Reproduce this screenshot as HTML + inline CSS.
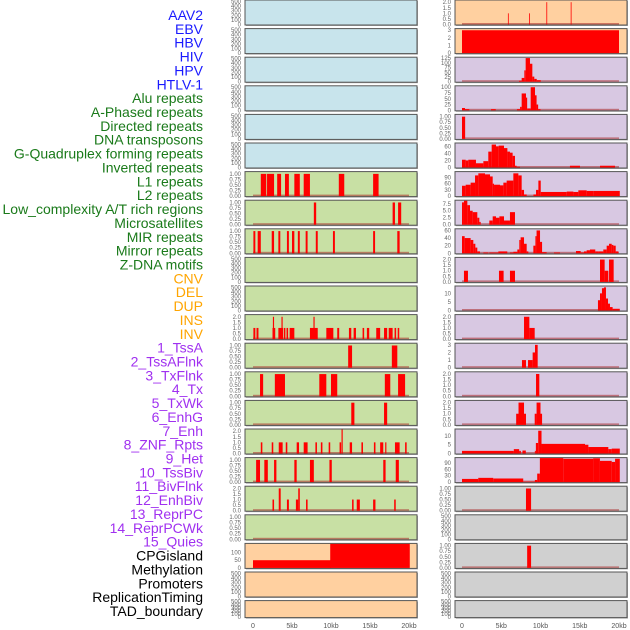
<!DOCTYPE html>
<html><head><meta charset="utf-8"><style>
html,body{margin:0;padding:0;background:#fff;width:630px;height:630px;overflow:hidden}
svg{display:block;font-family:"Liberation Sans",sans-serif}
</style></head><body>
<svg id="c" width="630" height="630" viewBox="0 0 630 630"></svg>
<script>
const labelNames=["AAV2","EBV","HBV","HIV","HPV","HTLV-1","Alu repeats","A-Phased repeats","Directed repeats","DNA transposons","G-Quadruplex forming repeats","Inverted repeats","L1 repeats","L2 repeats","Low_complexity A/T rich regions","Microsatellites","MIR repeats","Mirror repeats","Z-DNA motifs","CNV","DEL","DUP","INS","INV","1_TssA","2_TssAFlnk","3_TxFlnk","4_Tx","5_TxWk","6_EnhG","7_Enh","8_ZNF_Rpts","9_Het","10_TssBiv","11_BivFlnk","12_EnhBiv","13_ReprPC","14_ReprPCWk","15_Quies","CPGisland","Methylation","Promoters","ReplicationTiming","TAD_boundary"];
const labelColors=["#1a1aff","#1a1aff","#1a1aff","#1a1aff","#1a1aff","#1a1aff","#1a7a1a","#1a7a1a","#1a7a1a","#1a7a1a","#1a7a1a","#1a7a1a","#1a7a1a","#1a7a1a","#1a7a1a","#1a7a1a","#1a7a1a","#1a7a1a","#1a7a1a","#ffa500","#ffa500","#ffa500","#ffa500","#ffa500","#a030f0","#a030f0","#a030f0","#a030f0","#a030f0","#a030f0","#a030f0","#a030f0","#a030f0","#a030f0","#a030f0","#a030f0","#a030f0","#a030f0","#a030f0","#000","#000","#000","#000","#000"];
const panelBg=["#c8e4ec","#c8e4ec","#c8e4ec","#c8e4ec","#c8e4ec","#c8e4ec","#c8e0a4","#c8e0a4","#c8e0a4","#c8e0a4","#c8e0a4","#c8e0a4","#c8e0a4","#c8e0a4","#c8e0a4","#c8e0a4","#c8e0a4","#c8e0a4","#c8e0a4","#ffd0a0","#ffd0a0","#ffd0a0","#ffd0a0","#ffd0a0","#d8c8e2","#d8c8e2","#d8c8e2","#d8c8e2","#d8c8e2","#d8c8e2","#d8c8e2","#d8c8e2","#d8c8e2","#d8c8e2","#d8c8e2","#d8c8e2","#d8c8e2","#d8c8e2","#d8c8e2","#d0d0d0","#d0d0d0","#d0d0d0","#d0d0d0","#d0d0d0"];
const T500=["0","100","200","300","400","500"], T1=["0.00","0.25","0.50","0.75","1.00"], T2=["0.0","0.5","1.0","1.5","2.0"];
const panelTicks=[T500,T500,T500,T500,T500,T500,T1,T1,T1,T500,T500,T2,T1,T1,T1,T2,T1,T2,T1,["0","50","100"],T500,T500,
 T2,["0","1","2","3"],["0","25","50","75","100","125"],["0","25","50","75","100"],T1,["0","20","40","60"],["0","30","60","90"],["0.0","2.5","5.0","7.5"],["0","20","40","60"],T2,["0","5","10"],T2,["0","1","2","3"],T2,T2,["0","5","10"],["0","30","60","90"],T1,T500,T1,T500,T500];
const panelMax=[520,520,520,520,520,520,1.08,1.08,1.08,520,520,2.15,1.08,1.08,1.08,2.15,1.08,2.15,1.08,156,520,520,
 2.15,3.15,127,104,1.08,68,116,8.6,63,2.15,14,2.15,3.15,2.15,2.15,13.7,113,1.08,520,1.08,520,520];
const barsAlu=[[1.0,1.7,1],[1.8,2.7,1],[3.1,3.6,1],[4.1,4.6,1],[5.3,6.0,1],[6.5,7.3,1],[11.0,11.7,1],[15.4,16.1,1]];
const barsAPhased=[[7.8,8.1,1],[17.9,18.2,1],[18.6,19.0,1]];
const barsDirected=[[0.05,0.3,1],[0.6,1.0,1],[2.4,2.7,1],[3.25,3.5,1],[4.35,4.6,1],[5.0,5.3,1],[5.75,6.0,1],[6.75,7.0,1],[8.05,8.3,1],[10.25,10.5,1],[15.4,15.65,1],[18.5,18.8,1]];
const barsInverted=[[0.05,0.3,1],[0.45,0.7,1],[2.5,2.85,1],[2.55,2.7,2],[3.25,3.85,1],[3.65,3.8,2],[3.95,4.15,1],[4.3,4.5,1],[4.7,5.3,1],[7.3,8.3,1],[7.75,7.9,2],[9.4,10.3,1],[10.8,11.05,1],[12.3,12.6,1],[12.9,13.2,1],[14.05,14.25,1],[14.6,14.9,1],[15.8,16.3,1],[16.8,17.2,1],[17.4,17.9,1],[18.15,18.35,1],[18.55,18.75,1]];
const barsL2=[[12.2,12.7,1],[17.8,18.5,1]];
const barsLowComplexity=[[0.9,1.3,1],[2.8,4.1,1],[8.5,9.4,1],[10.0,10.8,1],[16.9,17.6,1],[18.6,19.5,1]];
const barsMicrosat=[[12.6,13.0,1],[16.8,17.2,1]];
const barsMIR=[[1.0,1.2,1],[2.4,2.6,1],[3.3,3.8,1],[4.2,4.4,1],[5.6,5.9,1],[6.5,7.0,1],[8.0,8.2,1],[8.7,8.9,1],[9.7,9.9,1],[11.1,11.3,1],[11.35,11.5,2.2],[12.4,12.7,1],[13.9,14.1,1],[15.5,15.7,1],[16.3,16.7,1],[16.95,17.1,1],[18.2,18.8,1],[19.5,19.7,1]];
const barsMirror=[[0.4,0.9,1],[1.45,1.9,1],[2.7,3.0,1],[5.3,5.6,1],[7.3,7.8,1],[9.8,10.1,1],[16.7,17.0,1],[18.3,18.7,1]];
const barsZDNA=[[2.5,2.7,1],[3.3,3.55,2],[4.35,4.6,1],[5.5,5.8,1],[5.8,6.0,2],[6.8,7.0,1],[12.7,12.9,1],[13.3,13.7,1],[15.4,15.7,1],[18.1,18.3,1]];
const barsCNV=[[0,10,50],[9.9,20.1,160]];
const barsINS=[[5.85,5.95,1],[8.55,8.65,1],[10.75,10.85,2],[13.85,13.95,2]];
const barsINV=[[0,20,3]];
const barsTssA=[[7.26,7.6,5],[7.6,7.94,20],[7.94,8.11,60],[8.11,8.66,125],[8.66,8.96,95],[8.96,9.21,27],[9.21,9.52,15],[9.52,10.03,8]];
const barsTssAFlnk=[[0,0.38,10],[0.38,0.93,5],[3.7,4.3,5],[7.0,7.4,5],[7.4,7.6,15],[7.6,8.15,73],[8.15,8.3,55],[8.3,8.75,8],[8.75,9.3,100],[9.3,9.5,65],[9.5,9.7,25],[9.7,10.0,5]];
const barsTxFlnk=[[0,0.4,1]];
const barsTx=[[0,0.47,22],[0.47,0.8,20],[0.8,1.78,22],[1.78,2.72,12],[2.72,3.35,18],[3.35,3.78,45],[3.78,4.33,65],[4.33,4.67,60],[4.67,5.35,62],[5.35,5.78,55],[5.78,6.11,45],[6.11,6.45,42],[6.45,6.75,33],[6.75,6.96,5],[6.96,7.39,2],[13.75,15.03,5],[17.58,19.49,5]];
const barsTxWk=[[0,0.47,50],[0.47,1.1,55],[1.1,1.66,65],[1.66,2.08,100],[2.08,2.93,110],[2.93,3.57,105],[3.57,3.91,95],[3.91,4.08,60],[4.08,4.84,55],[4.84,5.27,52],[5.27,5.69,65],[5.69,6.54,75],[6.54,7.18,110],[7.18,7.6,100],[7.6,7.9,30],[7.9,8.24,8],[9.1,9.43,8],[9.43,9.73,30],[9.73,10.03,75],[10.03,13.34,20],[13.34,14.19,22],[14.19,14.82,20],[14.82,15.88,28],[15.88,16.73,25],[16.73,20.1,25]];
const barsEnhG=[[0,0.25,8],[0.25,0.68,9],[0.68,1.02,7],[1.02,1.36,5],[1.36,1.95,4.5],[1.95,2.21,2.5],[2.21,2.38,1],[3.48,3.91,1.5],[3.91,4.33,3],[4.33,4.76,2.5],[4.76,5.35,3],[5.35,6.11,1.5],[6.11,6.75,4.5]];
const barsEnh=[[0,0.34,45],[0.34,1.1,40],[1.1,1.44,35],[1.44,1.7,25],[1.7,1.95,15],[1.95,2.29,5],[2.72,3.35,2],[3.48,4.63,2],[4.63,5.77,5],[6.11,6.54,2],[6.54,7.05,4],[7.05,7.3,10],[7.3,7.47,35],[7.47,7.9,42],[7.9,8.24,25],[8.24,8.45,5],[9.09,9.35,20],[9.35,9.5,45],[9.5,9.94,60],[9.94,10.2,30],[10.2,10.78,3],[11.72,12.48,2],[14.52,15.12,6],[15.12,15.54,2],[15.54,15.88,5],[15.88,16.3,8],[16.3,16.98,10],[16.98,17.37,5],[17.37,18.0,5],[18.0,18.43,10],[18.43,18.73,20],[18.73,19.07,25],[19.07,19.28,22],[19.28,19.58,20],[19.58,19.92,5]];
const barsZNF=[[0.25,0.76,1],[4.71,5.3,1],[6.11,6.75,1],[17.58,18.17,2],[18.17,18.64,1],[18.73,19.32,2]];
const barsHet=[[17.32,17.58,6],[17.58,17.83,10],[17.83,18.09,13],[18.09,18.34,13.5],[18.34,18.6,7],[18.6,18.85,4],[18.85,19.19,2],[19.19,20.1,1]];
const barsTssBiv=[[7.9,8.58,2],[8.58,9.26,1]];
const barsBivFlnk=[[7.64,8.15,1],[8.41,9.0,1],[9.0,9.3,2],[9.3,9.64,3]];
const barsEnhBiv=[[9.43,9.85,2]];
const barsReprPC=[[6.9,7.2,1],[7.2,7.9,2],[7.9,8.15,1],[9.26,9.5,1],[9.5,10.0,2],[10.0,10.2,1]];
const barsReprPCWk=[[0,6.6,1.5],[6.6,7.28,2.5],[7.28,7.5,1.5],[7.7,8.13,1.7],[9.28,9.41,1.5],[9.41,9.71,6],[9.71,10.13,13],[10.13,15.67,5.5],[15.67,16.1,5],[16.1,18.64,3.7],[18.64,19.07,2.5],[19.07,20.1,2.8]];
const barsQuies=[[0,2.07,15],[2.07,3.98,20],[3.98,7.8,17],[7.8,9.28,2],[9.28,9.58,10],[9.58,9.92,40],[9.92,12.9,117],[12.9,16.7,110],[16.7,17.57,112],[17.57,19.07,100],[19.07,19.5,95],[19.5,20.1,110]];
const barsCPG=[[8.15,8.8,1]];
const barsPromoters=[[8.3,8.8,1]];
const panelBars=[[],[],[],[],[],[],barsAlu,barsAPhased,barsDirected,[],[],barsInverted,barsL2,barsLowComplexity,barsMicrosat,barsMIR,barsMirror,barsZDNA,[],barsCNV,[],[],
 barsINS,barsINV,barsTssA,barsTssAFlnk,barsTxFlnk,barsTx,barsTxWk,barsEnhG,barsEnh,barsZNF,barsHet,barsTssBiv,barsBivFlnk,barsEnhBiv,barsReprPC,barsReprPCWk,barsQuies,barsCPG,[],barsPromoters,[],[]];
const xTickKb=[0,5,10,15,20];
const xTickLabels=["0","5kb","10kb","15kb","20kb"];
const hasBaseline=[false,false,false,false,false,false,true,true,true,false,false,true,true,true,true,true,true,true,true,true,false,false,
 true,true,true,true,true,true,true,true,true,true,true,true,true,true,true,true,true,true,false,true,false,false];

const NS="http://www.w3.org/2000/svg";
const svg=document.getElementById('c');
function mk(t,a,p){const e=document.createElementNS(NS,t);for(const k in a)e.setAttribute(k,a[k]);(p||svg).appendChild(e);return e;}
function slug(s){return s.toLowerCase().replace(/[^a-z0-9]+/g,'-').replace(/^-|-$/g,'');}

// labels
labelNames.forEach((n,i)=>{
  const t=mk('text',{x:203,y:15+i*13.86+5,'text-anchor':'end','font-size':14,fill:labelColors[i]});
  t.textContent=n;
  
  
});

const cols=[{px:245,x0:253,k:7.8,tx:241},{px:455,x0:462,k:7.85,tx:451}];
for(let p=0;p<44;p++){
  const col=cols[p<22?0:1], row=p%22;
  const y=row*28.6, h=row===21?17:25;
  const xs=kb=>col.x0+kb*col.k;
  const g=mk('g',{});
  
  
  mk('rect',{x:col.px+1,y:y+1,width:172,height:h,fill:'#aaa'},g);
  const bg=mk('rect',{x:col.px,y:y,width:172,height:h,fill:panelBg[p],stroke:'#555','stroke-width':1},g);
  
  
  const y0=y+h-0.5, top=y+0.5, dmax=panelMax[p];
  const ys=v=>y0-(v/dmax)*(h-1);
  if(hasBaseline[p]) mk('rect',{x:xs(0),y:y0-1.5,width:xs(20)-xs(0),height:1.5,fill:'rgba(170,40,40,0.55)'},g);
  panelBars[p].forEach(b=>{
    const yt=Math.max(top,ys(b[2]));
    const r=mk('rect',{x:xs(b[0]),y:yt,width:Math.max(0.8,xs(b[1])-xs(b[0])),height:y0-yt,fill:'#ff0000'},g);
    
    
  });
  panelTicks[p].forEach(tl=>{
    const v=parseFloat(tl);
    const t=mk('text',{x:col.tx,y:ys(v)+2,'text-anchor':'end','font-size':6,fill:'#666'},g);
    t.textContent=tl;
    
    
  });
}
// x axes
cols.forEach((col,ci)=>{
  xTickKb.forEach((kb,i)=>{
    const t=mk('text',{x:col.x0+kb*col.k,y:628,'text-anchor':'middle','font-size':7,fill:'#555'});
    t.textContent=xTickLabels[i];
    
    
  });
});
</script>
</body></html>
